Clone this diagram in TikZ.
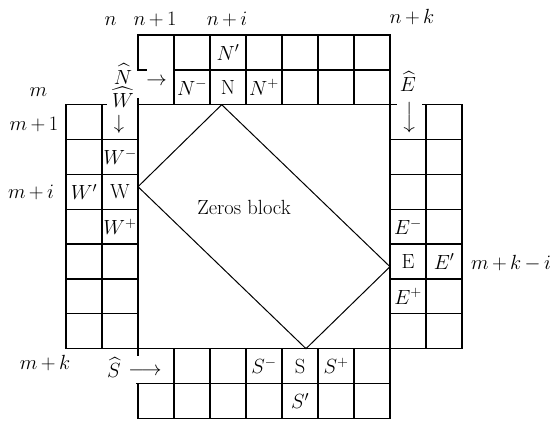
\RequirePackage{fix-cm}
\documentclass[tikz,border=0pt]{standalone}
\usepackage{amsmath}
\medmuskip=3mu plus 2mu minus 3mu
\begin{document}
\begin{tikzpicture}[x=1pt,y=-1pt,
  gridline/.style={line width=1.3pt, line cap=rect},
  diag/.style={line width=1pt, line join=miter},
  lbl/.style={font=\fontsize{20.5}{24}\selectfont, inner sep=0pt, outer sep=0pt},
  bl/.style={lbl, anchor=base}]
\useasboundingbox (0,0) rectangle (551,420);
% ---- top grid
\draw[gridline] (138,35) -- (390,35);
\draw[gridline] (138,69.85) -- (146.7,69.85);
\draw[gridline] (174,69.85) -- (390,69.85);
\draw[gridline] (138,35) -- (138,69.85);
\foreach \x in {174,210,246,282,318,354}
  \draw[gridline] (\x,35) -- (\x,104.7);
% ---- line y = m
\draw[gridline] (66,104.7) -- (106,104.7);
\draw[gridline] (138,104.7) -- (396.7,104.7);
\draw[gridline] (423,104.7) -- (462,104.7);
% ---- left grid
\draw[gridline] (66,104.7) -- (66,348.65);
\draw[gridline] (102,104.7) -- (102,348.65);
\draw[gridline] (138,99) -- (138,355);
\draw[gridline] (138,383.5) -- (138,418.35);
\foreach \y in {139.55,174.4,209.25,244.1,278.95,313.8} {
  \draw[gridline] (66,\y) -- (138,\y);
  \draw[gridline] (390,\y) -- (462,\y);
}
\draw[gridline] (66,348.65) -- (462,348.65);
% ---- right grid
\draw[gridline] (390,35) -- (390,418.35);
\draw[gridline] (426,104.7) -- (426,348.65);
\draw[gridline] (462,104.7) -- (462,348.65);
% ---- bottom grid
\foreach \x in {174,210,246,282,318,354}
  \draw[gridline] (\x,348.65) -- (\x,418.35);
\draw[gridline] (136.7,383.5) -- (390,383.5);
\draw[gridline] (138,418.35) -- (390,418.35);
% ---- zeros block
\coordinate (dN) at (221.7,104.7);
\coordinate (dW) at (138,186.7);
\coordinate (dS) at (306,348.65);
\coordinate (dE) at (390,266.7);
\draw[diag] (dN) -- (dW) -- (dS) -- (dE) -- cycle;
\node[bl] (zeros) at (244,214.3) {Zeros block};
% ---- index labels
\node[bl] (ln) at (110.5,25.3) {$n$};
\node[bl] (ln1) at (155,25.3) {$n+1$};
\node[bl] (lni) at (227,25.3) {$n+i$};
\node[bl] (lnk) at (412,24) {$n+k$};
\node[bl] (lm) at (38.5,96.7) {$m$};
\node[bl] (lm1) at (34,130) {$m+1$};
\node[bl] (lmi) at (31,198) {$m+i$};
\node[bl] (lmk) at (45,369) {$m+k$};
\node[bl] (lmki) at (511,269.3) {$m+k-i$};
% ---- north
\node[lbl] (Np) at (228,52.4) {$N'$};
\node[lbl] (Nm) at (192,87.3) {$N^{-}$};
\node[lbl] (N) at (228,87.3) {$\mathrm{N}$};
\node[lbl] (Npl) at (264,87.3) {$N^{+}$};
\node[bl] (Nh) at (123,84) {$\widehat{N}$};
\node[lbl] (Narr) at (156.5,82) {$\rightarrow$};
% ---- west
\node[bl] (Wh) at (123,107.5) {$\widehat{W}$};
\node[lbl] (Warr) at (119,124) {$\downarrow$};
\node[lbl] (Wm) at (120,157) {$W^{-}$};
\node[lbl] (W) at (120,191.8) {$\mathrm{W}$};
\node[lbl] (Wp) at (84,191.8) {$W'$};
\node[lbl] (Wpl) at (120,226.7) {$W^{+}$};
% ---- east
\node[bl] (Eh) at (408,92) {$\widehat{E}$};
\node[lbl, rotate=-90] (Earr) at (408,117) {$\longrightarrow$};
\node[lbl] (Em) at (408,226.7) {$E^{-}$};
\node[lbl] (E) at (408,261.5) {$\mathrm{E}$};
\node[lbl] (Ep) at (444,261.5) {$E'$};
\node[lbl] (Epl) at (408,296.4) {$E^{+}$};
% ---- south
\node[bl] (Sh) at (114,377.5) {$\widehat{S}$};
\node[lbl] (Sarr) at (145,371.7) {$\longrightarrow$};
\node[lbl] (Sm) at (264,366) {$S^{-}$};
\node[lbl] (S) at (300,366) {$\mathrm{S}$};
\node[lbl] (Spl) at (336,366) {$S^{+}$};
\node[lbl] (Sp) at (300,401) {$S'$};
\end{tikzpicture}
\end{document}
